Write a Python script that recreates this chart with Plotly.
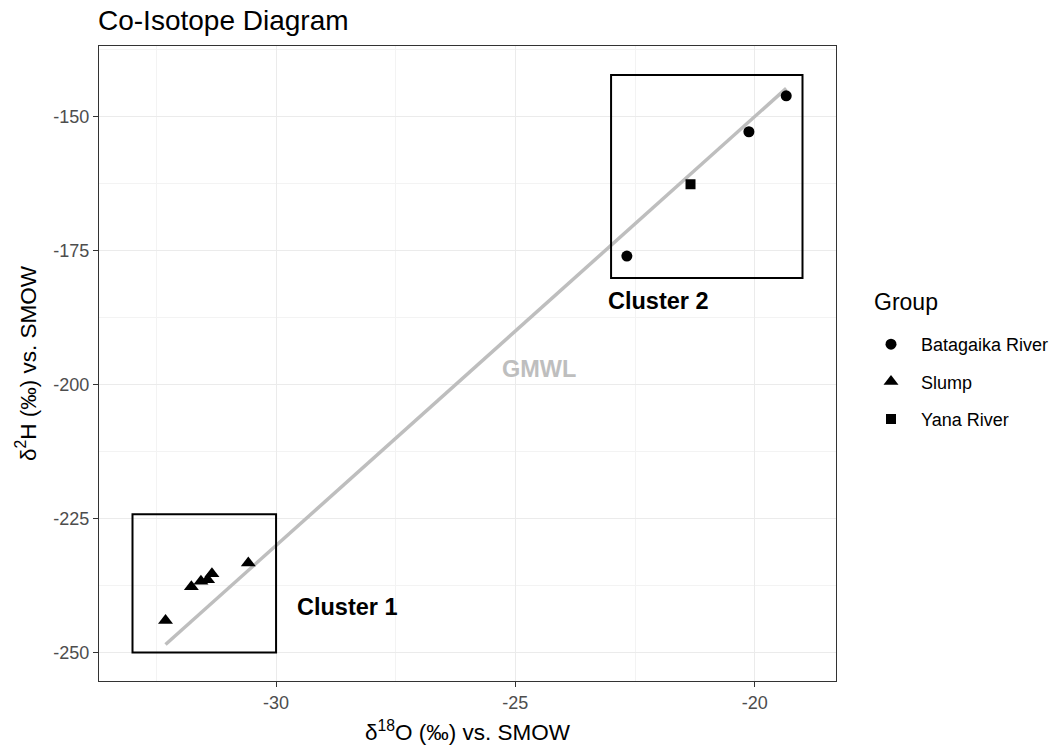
import plotly.graph_objects as go

# ---- data ----
bat_x = [-22.67, -20.12, -19.34]
bat_y = [-176.0, -152.8, -146.1]
slump_x = [-32.31, -31.77, -31.57, -31.43, -31.34, -30.58]
slump_y = [-244.0, -237.7, -236.7, -236.4, -235.3, -233.3]
yana_x = [-21.34]
yana_y = [-162.6]

gmwl_x = [-32.31, -19.34]
gmwl_y = [-248.5, -144.7]

cluster1_box = [-33.0, -30.0, -250.0, -224.2]   # x0, x1, y0, y1
cluster2_box = [-23.0, -19.0, -180.1, -142.2]

labels = ["Cluster 1", "Cluster 2", "GMWL"]
label_x = [-28.5, -22.0, -24.5]
label_y = [-241.5, -184.4, -197.0]

x_range = [-33.7, -18.3]
y_range = [-255.3, -136.8]
x_ticks = [-30, -25, -20]
y_ticks = [-250, -225, -200, -175, -150]

FONT = "Liberation Sans, Arial, sans-serif"

fig = go.Figure()

fig.add_trace(go.Scatter(x=gmwl_x, y=gmwl_y, mode="lines",
                         line=dict(color="#BEBEBE", width=3.5),
                         showlegend=False, hoverinfo="skip"))

fig.add_trace(go.Scatter(x=bat_x, y=bat_y, mode="markers", name="Batagaika River",
                         legendgroup="g1",
                         marker=dict(symbol="circle", size=11, color="black")))
fig.add_trace(go.Scatter(x=slump_x, y=slump_y, mode="markers", name="Slump",
                         legendgroup="g2",
                         marker=dict(symbol="triangle-up", size=13, color="black")))
fig.add_trace(go.Scatter(x=yana_x, y=yana_y, mode="markers", name="Yana River",
                         legendgroup="g3",
                         marker=dict(symbol="square", size=10, color="black")))

for b in (cluster1_box, cluster2_box):
    fig.add_shape(type="rect", x0=b[0], x1=b[1], y0=b[2], y1=b[3],
                  line=dict(color="black", width=2), fillcolor="rgba(0,0,0,0)",
                  layer="above")

for t, x, y in zip(labels, label_x, label_y):
    col = "#BEBEBE" if t == "GMWL" else "black"
    fig.add_annotation(x=x, y=y, text="<b>%s</b>" % t, showarrow=False,
                       font=dict(family=FONT, size=23.5, color=col))

# legend title
fig.add_annotation(x=(872 - 99) / 737, y=(681 - 302) / 635, xref="paper", yref="paper",
                   xanchor="left", yanchor="middle", showarrow=False, text="Group",
                   font=dict(family=FONT, size=23, color="black"))

axis_common = dict(showline=True, linecolor="#333333", linewidth=1.2, mirror=True,
                   ticks="outside", ticklen=5, tickcolor="#333333", tickwidth=1.2,
                   showgrid=True, gridcolor="#EBEBEB", gridwidth=1.3,
                   zeroline=False,
                   tickfont=dict(family=FONT, size=18, color="#4D4D4D"))

fig.update_xaxes(range=x_range, tickvals=x_ticks, ticktext=[str(v) for v in x_ticks],
                 minor=dict(tickvals=[-32.5, -27.5, -22.5, -17.5], showgrid=True,
                            gridcolor="#F3F3F3", gridwidth=0.8, ticks=""),
                 title=dict(text="δ<sup>18</sup>O (‰) vs. SMOW",
                            font=dict(family=FONT, size=22.5, color="black"), standoff=12),
                 **axis_common)
fig.update_yaxes(range=y_range, tickvals=y_ticks, ticktext=[str(v) for v in y_ticks],
                 minor=dict(tickvals=[-237.5, -212.5, -187.5, -162.5, -137.5], showgrid=True,
                            gridcolor="#F3F3F3", gridwidth=0.8, ticks=""),
                 title=dict(text="δ<sup>2</sup>H (‰) vs. SMOW",
                            font=dict(family=FONT, size=22.5, color="black"), standoff=10),
                 **axis_common)

fig.update_layout(
    width=1057, height=751,
    margin=dict(l=99, r=221, t=46, b=70, autoexpand=False),
    paper_bgcolor="white", plot_bgcolor="white",
    title=dict(text="Co-Isotope Diagram", x=98 / 1057, xanchor="left",
               y=1 - 20 / 751, yanchor="middle",
               font=dict(family=FONT, size=28, color="black")),
    legend=dict(font=dict(family=FONT, size=18, color="black"),
                x=(861 - 99) / 737, xanchor="left", y=(681 - 326) / 635, yanchor="top",
                bgcolor="rgba(0,0,0,0)", itemwidth=50, tracegroupgap=11),
    showlegend=True,
)

fig.write_html("out.html")
